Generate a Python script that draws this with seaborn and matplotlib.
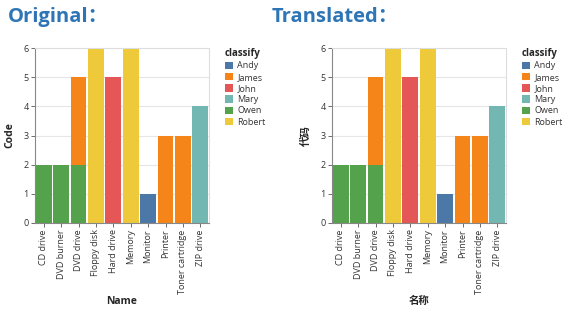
import matplotlib
matplotlib.use('Agg')
import matplotlib.pyplot as plt
import seaborn as sns
import pandas as pd
from matplotlib.patches import Patch

sns.set_theme(style="white")
plt.rcParams['font.family'] = ['Open Sans', 'Noto Sans CJK SC', 'DejaVu Sans']

# dados
nomes = ["CD drive", "DVD burner", "DVD drive", "Floppy disk", "Hard drive",
         "Memory", "Monitor", "Printer", "Toner cartridge", "ZIP drive"]
registros_nome = ["CD drive", "DVD burner", "DVD drive", "DVD drive", "Floppy disk",
                  "Hard drive", "Memory", "Monitor", "Printer", "Toner cartridge", "ZIP drive"]
registros_classe = ["Owen", "Owen", "Owen", "James", "Robert",
                    "John", "Robert", "Andy", "James", "James", "Mary"]
registros_codigo = [2, 2, 2, 3, 6, 5, 6, 1, 3, 3, 4]
classes = ["Andy", "James", "John", "Mary", "Owen", "Robert"]
ordem_pilha = ["Owen", "Andy", "James", "John", "Mary", "Robert"]

CORES = {"Andy": "#4c78a8", "James": "#f58518", "John": "#e45756",
         "Mary": "#72b7b2", "Owen": "#54a24b", "Robert": "#eeca3b"}
COR_TITULO = "#2e75b6"

df = pd.DataFrame({"nome": registros_nome, "classe": registros_classe,
                   "codigo": registros_codigo})
tabela = df.pivot_table(index="nome", columns="classe", values="codigo",
                        aggfunc="sum").reindex(nomes).fillna(0)


def desenhar(ax, xlabel, ylabel, legenda_x):
    base = pd.Series(0.0, index=nomes)
    for c in ordem_pilha:
        vals = tabela[c] if c in tabela else pd.Series(0.0, index=nomes)
        sns.barplot(x=nomes, y=vals.values, bottom=base.values, color=CORES[c],
                    ax=ax, width=0.9, saturation=1, edgecolor="none", order=nomes)
        base = base + vals.values
    ax.set_ylim(0, 6)
    ax.set_xlim(-0.5, len(nomes) - 0.5)
    ax.set_yticks(range(7))
    ax.yaxis.grid(True, color="#e6e6e6", linewidth=0.8)
    ax.set_axisbelow(True)
    for s in ["top", "right"]:
        ax.spines[s].set_color("#dddddd")
        ax.spines[s].set_linewidth(0.8)
    for s in ["left", "bottom"]:
        ax.spines[s].set_color("#888888")
        ax.spines[s].set_linewidth(0.8)
    ax.tick_params(axis="both", labelsize=6.5, colors="#555555", length=3,
                   width=0.6, pad=1.5, labelcolor="#333333")
    ax.tick_params(axis="x", bottom=True, labelrotation=90)
    ax.tick_params(axis="y", left=True)
    ax.set_xlabel(xlabel, fontsize=7.5, fontweight="bold", labelpad=2)
    ax.set_ylabel(ylabel, fontsize=7.5, fontweight="bold", labelpad=6)
    handles = [Patch(facecolor=CORES[c], edgecolor="none", label=c) for c in classes]
    leg = ax.legend(handles=handles, title="classify", loc="upper left",
                    bbox_to_anchor=(legenda_x, 1.02), frameon=False,
                    fontsize=6.5, title_fontsize=7, handlelength=0.9,
                    handleheight=0.9, handletextpad=0.5, labelspacing=0.25,
                    borderaxespad=0, alignment="left")
    leg.get_title().set_fontweight("bold")
    for t in leg.get_texts():
        t.set_color("#333333")


fig = plt.figure(figsize=(5.65, 3.09), dpi=100)
ax1 = fig.add_axes([35 / 565, 1 - 223 / 309, 174 / 565, 175 / 309])
ax2 = fig.add_axes([332 / 565, 1 - 223 / 309, 174 / 565, 175 / 309])

desenhar(ax1, "Name", "Code", 1.07)
desenhar(ax2, "名称", "代码", 1.07)

fig.text(8 / 565, 1 - 22 / 309, "Original：", fontsize=14.5, fontweight="bold",
         color=COR_TITULO, family=['Open Sans', 'Noto Sans CJK SC'])
fig.text(272 / 565, 1 - 22 / 309, "Translated：", fontsize=14.5, fontweight="bold",
         color=COR_TITULO, family=['Open Sans', 'Noto Sans CJK SC'])

plt.savefig("out.png", dpi=100)
plt.close()
